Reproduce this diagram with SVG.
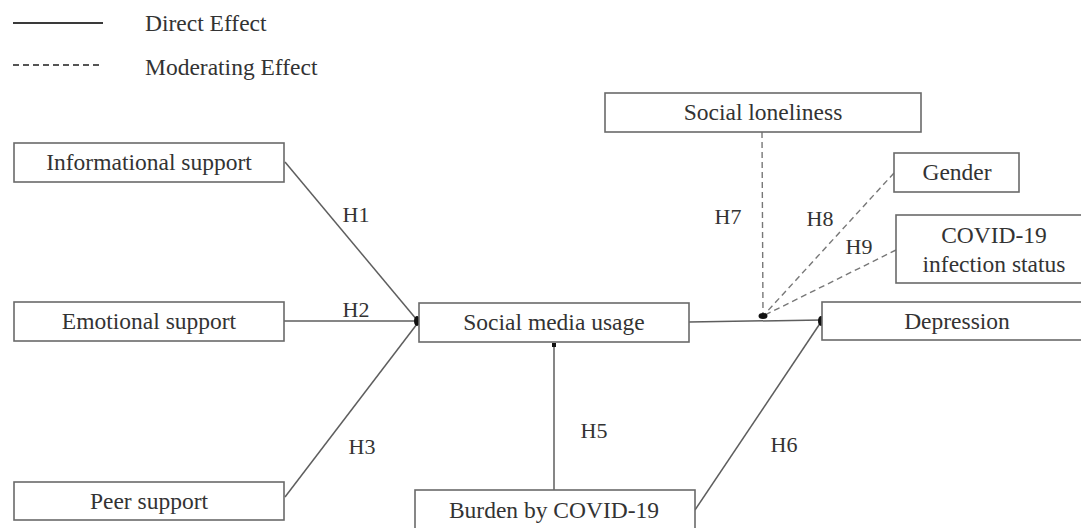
<svg xmlns="http://www.w3.org/2000/svg" width="1081" height="528" viewBox="0 0 1081 528">
  <style>
    .box { fill: #ffffff; stroke: #6a6a6a; stroke-width: 1.6; }
    .lbl { font-family: "Liberation Serif", "Times New Roman", serif; font-size: 23.5px; fill: #333333; text-anchor: middle; }
    .h { font-family: "Liberation Serif", "Times New Roman", serif; font-size: 22px; fill: #333333; text-anchor: middle; }
    .leg { font-family: "Liberation Serif", "Times New Roman", serif; font-size: 23.5px; fill: #333333; }
    .direct { stroke: #5e5e5e; stroke-width: 1.5; fill: none; }
    .mod { stroke: #777777; stroke-width: 1.4; fill: none; stroke-dasharray: 6 4; }
    .dot { fill: #111111; }
  </style>
  <rect width="1081" height="528" fill="#ffffff"/>

  <!-- legend -->
  <g id="legend">
    <line x1="13" y1="23" x2="103" y2="23" stroke="#3a3a3a" stroke-width="2"/>
    <text class="leg" x="145" y="31">Direct Effect</text>
    <line x1="13" y1="65" x2="103" y2="65" stroke="#555555" stroke-width="1.8" stroke-dasharray="6 4"/>
    <text class="leg" x="145" y="75">Moderating Effect</text>
  </g>

  <!-- connectors -->
  <g id="connectors">
    <line class="direct" x1="285" y1="162" x2="417" y2="320"/>
    <line class="direct" x1="284" y1="321" x2="417" y2="321"/>
    <line class="direct" x1="285" y1="497" x2="417" y2="324"/>
    <line class="direct" x1="554" y1="490" x2="554" y2="343"/>
    <line class="direct" x1="689" y1="322" x2="822" y2="320"/>
    <line class="direct" x1="695" y1="510" x2="821" y2="322"/>
    <line class="mod" x1="762" y1="132" x2="763" y2="316"/>
    <line class="mod" x1="894" y1="173" x2="763" y2="316"/>
    <line class="mod" x1="896" y1="250" x2="763" y2="316"/>
    <ellipse class="dot" cx="417" cy="321" rx="3" ry="5"/>
    <ellipse class="dot" cx="763" cy="316" rx="4.5" ry="3"/>
    <ellipse class="dot" cx="821" cy="321" rx="3" ry="5"/>
    <rect class="dot" x="552" y="343" width="4" height="4"/>
    <text class="h" x="356" y="222">H1</text>
    <text class="h" x="356" y="317">H2</text>
    <text class="h" x="362" y="454">H3</text>
    <text class="h" x="594" y="438">H5</text>
    <text class="h" x="784" y="452">H6</text>
    <text class="h" x="728" y="224">H7</text>
    <text class="h" x="820" y="226">H8</text>
    <text class="h" x="859" y="254">H9</text>
  </g>

  <!-- nodes -->
  <g id="informational-support">
    <rect class="box" x="14" y="143" width="270" height="39"/>
    <text class="lbl" x="149" y="170">Informational support</text>
  </g>
  <g id="emotional-support">
    <rect class="box" x="14" y="302" width="270" height="39"/>
    <text class="lbl" x="149" y="329">Emotional support</text>
  </g>
  <g id="peer-support">
    <rect class="box" x="14" y="482" width="270" height="38"/>
    <text class="lbl" x="149" y="509">Peer support</text>
  </g>
  <g id="social-media-usage">
    <rect class="box" x="419" y="303" width="270" height="39"/>
    <text class="lbl" x="554" y="330">Social media usage</text>
  </g>
  <g id="burden-by-covid">
    <rect class="box" x="415" y="490" width="280" height="50"/>
    <text class="lbl" x="554" y="518">Burden by COVID-19</text>
  </g>
  <g id="social-loneliness">
    <rect class="box" x="605" y="93" width="316" height="39"/>
    <text class="lbl" x="763" y="120">Social loneliness</text>
  </g>
  <g id="gender">
    <rect class="box" x="894" y="153" width="125" height="39"/>
    <text class="lbl" x="957" y="180">Gender</text>
  </g>
  <g id="covid-infection-status">
    <rect class="box" x="896" y="215" width="200" height="68"/>
    <text class="lbl" x="994" y="243">COVID-19</text>
    <text class="lbl" x="994" y="272">infection status</text>
  </g>
  <g id="depression">
    <rect class="box" x="822" y="302" width="270" height="38"/>
    <text class="lbl" x="957" y="329">Depression</text>
  </g>
</svg>
